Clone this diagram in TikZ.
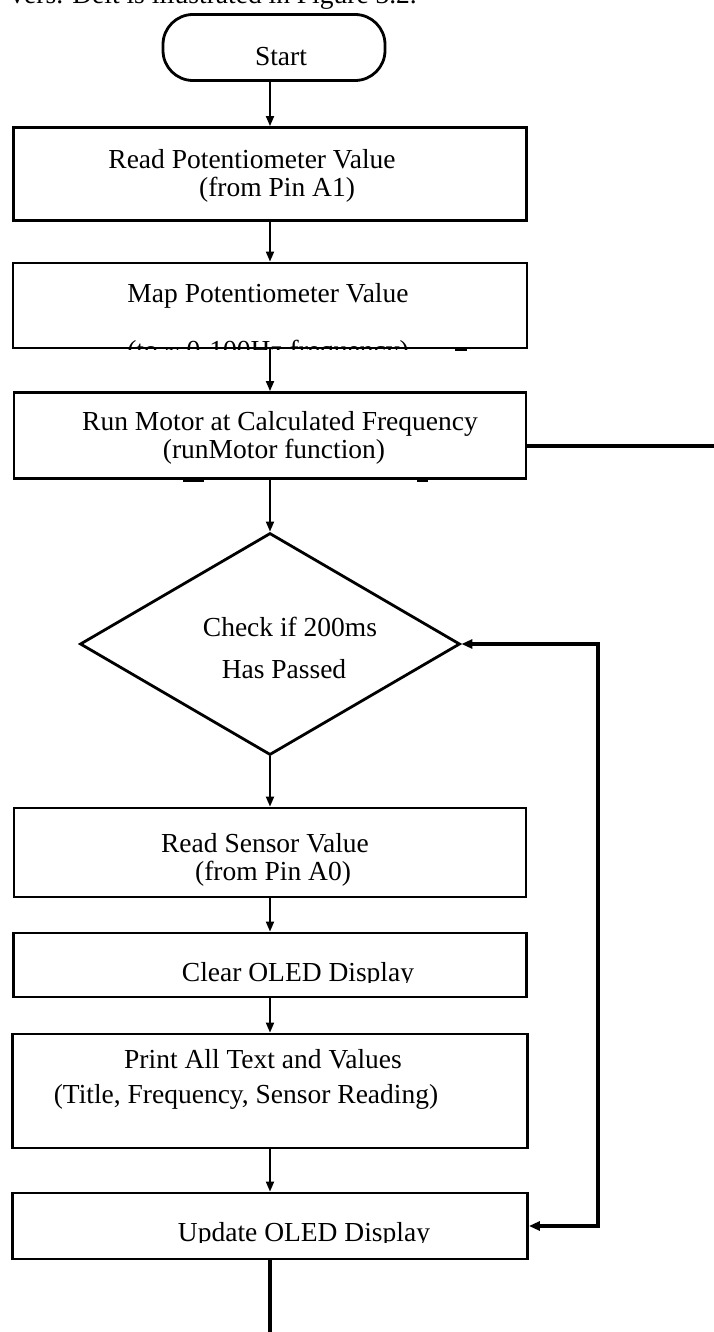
\documentclass[tikz,border=0pt]{standalone}
\usepackage{fontspec}
\setmainfont{Liberation Serif}
\usetikzlibrary{arrows.meta,shapes.geometric}
\begin{document}
\begin{tikzpicture}[x=1pt,y=-1pt,
  box/.style={draw,rectangle,line width=2.8pt,inner sep=0pt},
  term/.style={draw,rectangle,rounded corners=30pt,line width=2.8pt,inner sep=0pt},
  decision/.style={draw,diamond,line width=2.8pt,inner sep=0pt},
  lbl/.style={anchor=base,inner sep=0pt,font=\fontsize{27.5}{33}\selectfont},
  arr/.style={line width=1.8pt,-{Triangle[length=10pt,width=8pt]}},
  heavy/.style={line width=3.4pt},
]
\useasboundingbox (0,0) rectangle (714,1332);

% clipped body text line at the very top
\node[lbl,anchor=base east] (toptext) at (417,4) {vers. Delt is illustrated in Figure 3.2.};

% shapes
\node[term,minimum width=222pt,minimum height=66pt] (start) at (274,47.5) {};
\node[box,minimum width=513pt,minimum height=93pt] (b1) at (270,174) {};
\node[box,minimum width=514pt,minimum height=85pt] (b2) at (270,305.5) {};
\node[box,minimum width=512pt,minimum height=86pt] (b3) at (270,435.5) {};
\node[decision,minimum width=380pt,minimum height=222pt] (d) at (270,644) {};
\node[box,minimum width=512pt,minimum height=89pt] (b4) at (270,852.5) {};
\node[box,minimum width=513pt,minimum height=64pt] (b5) at (270,965) {};
\node[box,minimum width=515pt,minimum height=114pt] (b6) at (270,1091) {};
\node[box,minimum width=515pt,minimum height=66pt] (b7) at (270,1226) {};

% texts
\node[lbl] (tstart) at (281,66) {Start};
\node[lbl] (t1a) at (252,169) {Read Potentiometer Value};
\node[lbl] (t1b) at (277,197) {(from Pin A1)};
\node[lbl] (t2a) at (268,302) {Map Potentiometer Value};
\begin{scope}
  \clip (b2.north west) rectangle (b2.south east);
  \node[lbl] (t2b) at (268,359) {(to \textasciitilde\ 0-100Hz frequency)};
\end{scope}
\node[lbl] (t3a) at (280,430) {Run Motor at Calculated Frequency};
\node[lbl] (t3b) at (274,458) {(runMotor function)};
\node[lbl] (tda) at (290,636) {Check if 200ms};
\node[lbl] (tdb) at (284,678) {Has Passed};
\node[lbl] (t4a) at (265,852) {Read Sensor Value};
\node[lbl] (t4b) at (273,880) {(from Pin A0)};
\begin{scope}
  \clip (0,933) rectangle (714,982);
  \node[lbl] (t5) at (298,981) {Clear OLED Display};
\end{scope}
\node[lbl] (t6a) at (263,1068) {Print All Text and Values};
\node[lbl] (t6b) at (246,1103) {(Title, Frequency, Sensor Reading)};
\begin{scope}
  \clip (0,1193) rectangle (714,1242);
  \node[lbl] (t7) at (304,1241) {Update OLED Display};
\end{scope}

% connectors
\draw[arr] (start.south -| b1.north) -- (b1.north);
\draw[arr] (b1.south) -- (b2.north);
\draw[arr] (b2.south) -- (b3.north);
\draw[arr] (b3.south) -- (d.north);
\draw[arr] (d.south) -- (b4.north);
\draw[arr] (b4.south) -- (b5.north);
\draw[arr] (b5.south) -- (b6.north);
\draw[arr] (b6.south) -- (b7.north);

\coordinate (mend) at (714,446);
\draw[heavy] (mend -| b3.east) -- (mend);

\coordinate (lx) at (598,0);
\draw[heavy,{Triangle[length=11pt,width=9pt]}-{Triangle[length=11pt,width=9pt]}]
  (d.east) -- (d.east -| lx) -- (b7.east -| lx) -- (b7.east);

\coordinate (bend) at (270,1332);
\draw[heavy] (b7.south) -- (bend);

% small marks on box edges
\fill (455,347) rectangle (467,351);
\fill (183,478) rectangle (204,482);
\fill (417,478) rectangle (428,482);
\end{tikzpicture}
\end{document}
